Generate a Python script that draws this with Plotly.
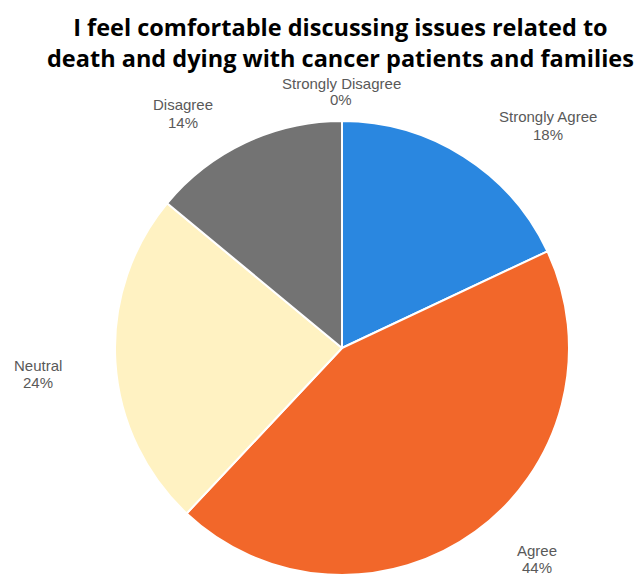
import plotly.graph_objects as go

labels = ["Strongly Agree", "Agree", "Neutral", "Disagree", "Strongly Disagree"]
values = [18, 44, 24, 14, 0]
colors = ["#2A87E0", "#F2672A", "#FFF2C2", "#737373", "#4472C4"]
title = "I feel comfortable discussing issues related to<br>death and dying with cancer patients and families"
# label positions (page pixels: x centre, y of first line) matching the original layout
label_pos = [(548, 117), (537, 550), (38, 365), (183, 105), (341, 83)]
LINE_GAP = 17

W, H = 636, 575
TOP = 121
plot_h = H - TOP

def py_to_paper(py):
    return 1 - (py - TOP) / plot_h

fig = go.Figure(go.Pie(
    labels=labels, values=values, sort=False, direction="clockwise", rotation=0,
    marker=dict(colors=colors, line=dict(color="white", width=2)),
    textinfo="none",
    domain=dict(x=[48 / W, 1], y=[0, 1]),
    showlegend=False, hoverinfo="label+percent",
))
total = sum(values)
lab_font = dict(family="Liberation Sans, Arial", size=15, color="#595959")
for lab, v, (px, py) in zip(labels, values, label_pos):
    for txt, yy in ((lab, py), (f"{round(100 * v / total)}%", py + LINE_GAP)):
        fig.add_annotation(
            x=px / W, y=py_to_paper(yy), xref="paper", yref="paper",
            xanchor="center", yanchor="middle", showarrow=False,
            text=txt, font=lab_font,
        )
fig.add_annotation(
    x=0.535, y=py_to_paper(9), xref="paper", yref="paper",
    xanchor="center", yanchor="top", showarrow=False,
    text=title, align="center",
    font=dict(family="Open Sans", size=23.5, color="black", weight="bold"),
)
fig.update_layout(
    width=W, height=H,
    margin=dict(l=0, r=0, t=TOP, b=0),
    paper_bgcolor="white", plot_bgcolor="white",
)
fig.write_html("out.html")
